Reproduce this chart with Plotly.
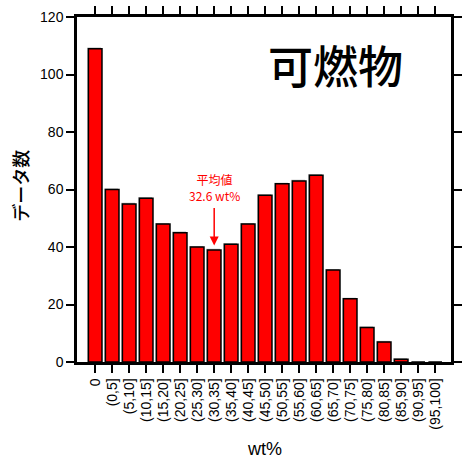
import plotly.graph_objects as go

# Histogram bins (wt%) and the number of samples in each
categories = ["0", "(0,5]", "(5,10]", "(10,15]", "(15,20]", "(20,25]", "(25,30]",
              "(30,35]", "(35,40]", "(40,45]", "(45,50]", "(50,55]", "(55,60]",
              "(60,65]", "(65,70]", "(70,75]", "(75,80]", "(80,85]", "(85,90]",
              "(90,95]", "(95,100]"]
counts = [109, 60, 55, 57, 48, 45, 40, 39, 41, 48, 58, 62, 63, 65, 32, 22, 12, 7, 1, 0, 0]

mean_bin = "(30,35]"
mean_label = "平均値<br>32.6 wt%"
y_ticks = [0, 20, 40, 60, 80, 100, 120]

tick_font = dict(family="Liberation Sans, Arial, sans-serif", size=14, color="black")
jp_font = "Noto Sans CJK JP"

fig = go.Figure()
# faint grey drop shadow drawn up-left of each non-empty bar
fig.add_trace(go.Bar(
    x=categories, y=[c + 0.35 if c > 0 else None for c in counts],
    width=0.8, offset=-0.46,
    marker=dict(color="#b4b4b4", line=dict(width=0)),
    showlegend=False, hoverinfo="skip",
))
fig.add_trace(go.Bar(
    x=categories, y=counts, width=0.8, offset=-0.4,
    marker=dict(color="#FF0000", line=dict(color="black", width=1.5)),
    showlegend=False,
))

fig.update_layout(
    width=468, height=460,
    barmode="overlay",
    margin=dict(l=77, r=6, t=15, b=98),
    plot_bgcolor="white", paper_bgcolor="white",
    xaxis=dict(
        type="category", range=[-1.07, 20.93],
        showline=True, linecolor="black", linewidth=2.5, mirror="allticks",
        ticks="outside", ticklen=8, tickwidth=2, tickcolor="black",
        tickangle=-90, tickfont=tick_font, showgrid=False,
    ),
    yaxis=dict(
        range=[0, 120], tickvals=y_ticks,
        showline=True, linecolor="black", linewidth=2.5, mirror="allticks",
        ticks="outside", ticklen=8, tickwidth=2, tickcolor="black",
        tickfont=tick_font, showgrid=False, zeroline=False,
    ),
    annotations=[
        # arrow pointing at the bin that contains the mean
        dict(x=mean_bin, y=40.5, xref="x", yref="y", text="", showarrow=True,
             ax=0, ay=-39, arrowhead=2, arrowsize=1.2, arrowwidth=1.5,
             arrowcolor="#FF0000"),
        dict(x=mean_bin, y=54.3, xref="x", yref="y", text=mean_label, showarrow=False,
             yanchor="bottom", font=dict(family=jp_font, size=12, color="#FF0000")),
        # chart title inside the plot area
        dict(x=(343 - 77) / 385, y=(362 - 63) / 347, xref="paper", yref="paper",
             text="可燃物", showarrow=False, xanchor="center", yanchor="middle",
             font=dict(family=jp_font, size=45, color="black", weight=500)),
        # axis titles
        dict(x=(18 - 77) / 385, y=0.51, xref="paper", yref="paper", text="データ数",
             textangle=-90, showarrow=False, xanchor="center", yanchor="middle",
             font=dict(family=jp_font, size=18, color="black", weight=500)),
        dict(x=0.5, y=-(450 - 362) / 347, xref="paper", yref="paper", text="wt%",
             showarrow=False, xanchor="center", yanchor="middle",
             font=dict(family="Liberation Sans, Arial, sans-serif", size=18, color="black")),
    ],
)

fig.write_html("out.html")
